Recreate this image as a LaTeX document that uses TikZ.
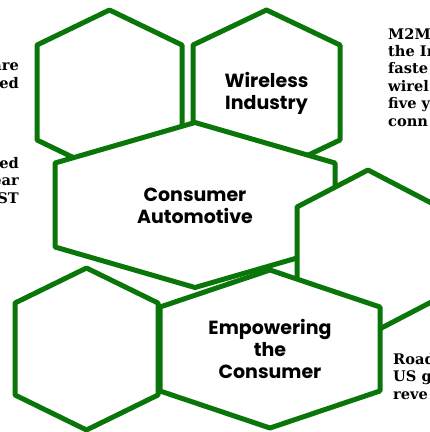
\documentclass[tikz,border=0pt]{standalone}
\usepackage{fontspec}
\newfontfamily\hexfont{Poppins}
\newfontfamily\notefont{DejaVu Serif}
\usetikzlibrary{positioning}

\definecolor{hexgreen}{RGB}{10,118,10}

\tikzset{
  hexcell/.style={draw=hexgreen, line width=5pt, line join=round, fill=white},
  hexlabel/.style={font=\hexfont\bfseries\fontsize{19}{22}\selectfont, align=center, text=black},
  note/.style={font=\notefont\bfseries\fontsize{14.6}{17.4}\selectfont, inner sep=0pt}
}

% hexagon: centre x, centre y, half width, half height, half side
\newcommand\hexcell[5]{%
  \draw[hexcell] (#1,#2-#4) -- (#1+#3,#2-#5) -- (#1+#3,#2+#5) -- (#1,#2+#4)
    -- (#1-#3,#2+#5) -- (#1-#3,#2-#5) -- cycle;}

\begin{document}
\begin{tikzpicture}[x=1pt, y=-1pt]
  \useasboundingbox (0,0) rectangle (430,432);
  \clip (0,0) rectangle (430,432);

  % back row
  \hexcell{109.5}{92.5}{72.5}{82.5}{47.5}
  \hexcell{266.5}{92.5}{73.5}{82.5}{47.5}
  % middle
  \hexcell{195}{205}{140}{82.5}{42}
  \hexcell{368}{252.5}{71}{82.5}{45.5}
  % front row
  \hexcell{86.5}{349}{71.5}{81}{46}
  \hexcell{270}{349}{110}{79}{42}

  \node[hexlabel] (wireless) at (266.5,93) {Wireless\\Industry};
  \node[hexlabel] (automotive) at (195,206) {Consumer\\Automotive};
  \node[hexlabel] (empowering) at (270,349) {Empowering\\the\\Consumer};

  % cut-off side notes
  \node[note, align=right, anchor=north east] (leftA) at (19,63) {are\\ed};
  \node[note, align=right, anchor=north east] (leftB) at (19,157) {ed\\ear\\ST};
  \node[note, align=left, anchor=north west] (m2m) at (388,28) {M2M\\the In\\faste\\wirel\\five y\\conn};
  \node[note, align=left, anchor=north west] (road) at (393,353) {Road\\US g\\reve};
\end{tikzpicture}
\end{document}
